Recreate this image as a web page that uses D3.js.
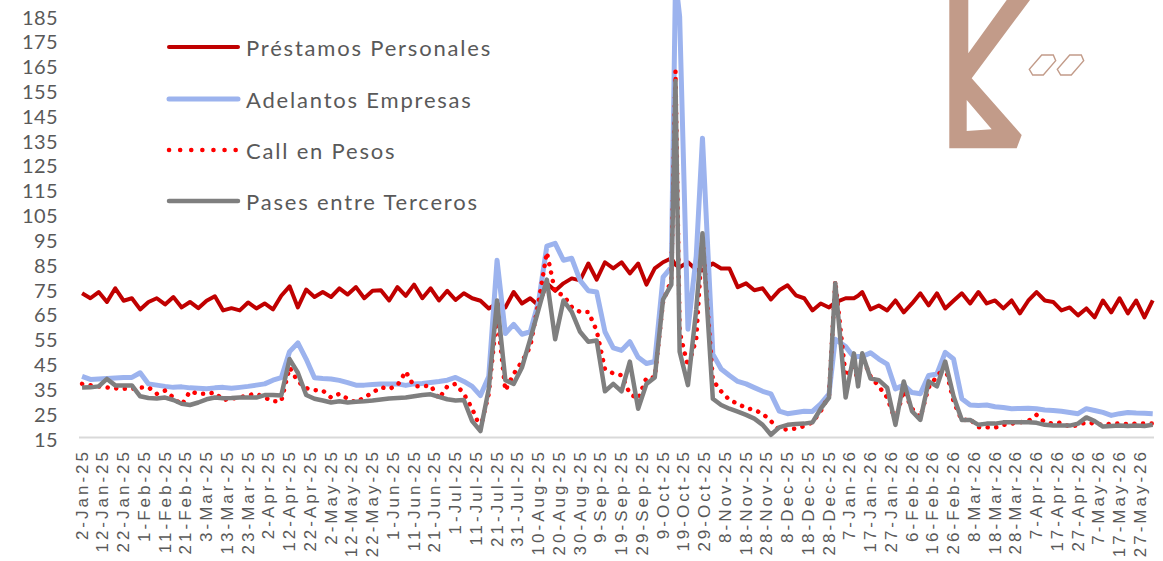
<!DOCTYPE html>
<html><head><meta charset="utf-8">
<script src="https://cdn.jsdelivr.net/npm/d3@7"></script>
<style>
html,body{margin:0;padding:0;background:#fff;}
svg{display:block;}
</style></head>
<body><svg id="chart" width="1163" height="561"></svg>
<script>
// ---------------- DATA ----------------
const dates = [
 "2025-01-02","2025-01-06","2025-01-10","2025-01-14","2025-01-18","2025-01-22","2025-01-26","2025-01-30","2025-02-03","2025-02-07",
 "2025-02-11","2025-02-15","2025-02-19","2025-02-23","2025-02-27","2025-03-03","2025-03-07","2025-03-11","2025-03-15","2025-03-19",
 "2025-03-23","2025-03-27","2025-03-31","2025-04-04","2025-04-08","2025-04-12","2025-04-16","2025-04-20","2025-04-24","2025-04-28",
 "2025-05-02","2025-05-06","2025-05-10","2025-05-14","2025-05-18","2025-05-22","2025-05-26","2025-05-30","2025-06-03","2025-06-07",
 "2025-06-11","2025-06-15","2025-06-19","2025-06-23","2025-06-27","2025-07-01","2025-07-05","2025-07-09","2025-07-13","2025-07-17",
 "2025-07-21","2025-07-25","2025-07-29","2025-08-02","2025-08-06","2025-08-10","2025-08-14","2025-08-18","2025-08-22","2025-08-26",
 "2025-08-30","2025-09-03","2025-09-07","2025-09-11","2025-09-15","2025-09-19","2025-09-23","2025-09-27","2025-10-01","2025-10-05",
 "2025-10-09","2025-10-13","2025-10-15","2025-10-17","2025-10-21","2025-10-25","2025-10-28","2025-11-02","2025-11-06","2025-11-10","2025-11-14",
 "2025-11-18","2025-11-22","2025-11-26","2025-11-30","2025-12-04","2025-12-08","2025-12-12","2025-12-16","2025-12-20","2025-12-24",
 "2025-12-28","2025-12-31","2026-01-05","2026-01-09","2026-01-11","2026-01-13","2026-01-17","2026-01-21","2026-01-25","2026-01-29","2026-02-02",
 "2026-02-06","2026-02-10","2026-02-14","2026-02-18","2026-02-22","2026-02-26","2026-03-02","2026-03-06","2026-03-10","2026-03-14",
 "2026-03-18","2026-03-22","2026-03-26","2026-03-30","2026-04-03","2026-04-07","2026-04-11","2026-04-15","2026-04-19","2026-04-23",
 "2026-04-27","2026-05-01","2026-05-05","2026-05-09","2026-05-13","2026-05-17","2026-05-21","2026-05-25","2026-05-29","2026-06-02"
];
const prestamos = [
 73.5,71.5,74,70,75.5,70.5,71.5,67,70,71.5,
 69,72,67.8,70,67.5,70.5,72.3,66.6,67.5,66.6,
 69.8,67.4,69.4,67,72.5,76.3,67.8,75,72,74,
 72,75.5,73,76,71.5,74.5,74.7,70.6,76,72.5,
 77,71.5,75.5,70.6,74.5,70.8,73.5,71.5,70.5,67.4,
 69.4,67.8,74,69.4,71.5,68.6,77.5,74.5,77.5,79.5,
 78.7,85.5,79,86,83.5,86,81.5,85.5,77,83.5,
 86,87.6,85,84,86,83,82.7,85.5,83.5,83.5,76,
 77.5,74.7,75.5,71,74.7,76.7,72.7,71.5,66.6,69.4,
 67.8,69.8,71.5,71.5,72.5,74,67,68.6,66.6,70.6,65.8,
 69.4,73.5,68.6,73.5,67.4,70.5,73.5,69.4,74,69.4,
 70.6,67.4,70.6,65.4,70.5,74,70.6,70,66.6,67.8,
 64.6,67.4,63.8,70.6,65.8,71.5,65.4,70.6,63.8,70.6
];
const adelantos = [
 40,38.8,39,39.2,39.4,39.6,39.6,41.5,37,36.5,
 36,35.6,35.8,35.4,35.2,35,35.4,35.6,35.2,35.6,
 36,36.5,37,38.5,39.5,50,53.5,47,39.5,39.2,
 39,38.4,37.5,36.5,36.5,36.8,37,37,37,36.4,
 37,37.2,37.6,38,38.5,39.6,38,36,32.3,40,
 86.8,57.3,61,57,58,70,92.5,93.6,86.8,87.6,
 78.7,74.5,74,58,51.5,50.5,54,47.7,45.2,46,
 80,84,200,185,59,88.5,136,49,43,40.4,38,
 37,35.5,34,33,26,25,25.5,26,25.9,29,
 33,55,52,47.7,48,48,49.5,47,45,35,36.5,
 33.5,33,40.4,41,49.7,47,31,28.5,28.3,28.5,
 27.8,27.5,27,27.1,27.2,27,26.5,26.3,26,25.5,
 25,27,26.3,25.5,24.3,25,25.5,25.3,25.2,25
];
const callPesos = [
 37,36.5,36,35.6,35.2,35,35,35.5,35.6,33,
 34.3,31.5,28.5,34,33,33,33.5,30.5,31,31.5,
 32.5,33,31.5,30,30,43.6,38,35.3,34.5,34.3,
 31.5,33,31,29.5,31.5,33.5,35.6,35,36.4,42,
 36,36,36.4,31,36,37,33,27,19.2,33,
 65.4,34.3,41,46,52,70,90,74,72.7,68,
 66,66,58.5,43,41.2,40.5,33,31,39.5,39.6,
 70,79,163,58,44,55,96,38.5,34,30.5,29,
 27.3,26.5,25,22,18.5,18.7,19,20,21.5,26,
 32.5,78.5,40,44,38,47.7,40,36,31.5,22.3,34.3,
 27,23.5,35.6,40,44,30,22.3,22.8,19.5,19.5,
 19.4,20.5,21,21.5,22,24.5,21.5,21,21.5,19.6,
 20.5,21.5,21,20.5,21,21,20.8,21,21,21
];
const pases = [
 35.5,35.6,36,39,36.4,36.4,36.4,32,31.3,31.1,
 31.5,30.5,29,28.5,29.5,30.8,31.5,31.2,31.3,31.5,
 31.5,31.5,32.5,32.5,32.3,47,41.5,32.5,31,30.3,
 29.5,30,29.5,29.8,30,30.3,30.7,31.1,31.3,31.5,
 32,32.5,32.8,31.8,30.8,30.3,30.5,22,18,35,
 70.6,38.5,37,43.6,55,67,79,55,70.6,66,
 58,54,54.5,34,37,34,46,27,37,39.6,
 71,77,159,50,36.5,67,97.7,31,28.5,27,25.8,
 24.5,23,20.5,16.5,19.5,20.5,20.8,21,21.5,27,
 31.5,77.5,31.5,49.3,36,49.3,39.2,38.5,35.5,20.5,38,
 26,22.5,38,36,46,32,22.5,22.5,20.5,21,
 21,21.5,21.5,21.5,21.5,21.3,20.5,20.2,20.2,20.2,
 21,23.5,22,19.8,20,20.2,20,20.2,20,20.5
];
const seriesNames = ["Préstamos Personales","Adelantos Empresas","Call en Pesos","Pases entre Terceros"];
const yTickValues = [15,25,35,45,55,65,75,85,95,105,115,125,135,145,155,165,175,185];
const xTickLabels = [
 "2-Jan-25","12-Jan-25","22-Jan-25","1-Feb-25","11-Feb-25","21-Feb-25","3-Mar-25","13-Mar-25","23-Mar-25",
 "2-Apr-25","12-Apr-25","22-Apr-25","2-May-25","12-May-25","22-May-25","1-Jun-25","11-Jun-25","21-Jun-25",
 "1-Jul-25","11-Jul-25","21-Jul-25","31-Jul-25","10-Aug-25","20-Aug-25","30-Aug-25","9-Sep-25","19-Sep-25",
 "29-Sep-25","9-Oct-25","19-Oct-25","29-Oct-25","8-Nov-25","18-Nov-25","28-Nov-25","8-Dec-25","18-Dec-25",
 "28-Dec-25","7-Jan-26","17-Jan-26","27-Jan-26","6-Feb-26","16-Feb-26","26-Feb-26","8-Mar-26","18-Mar-26",
 "28-Mar-26","7-Apr-26","17-Apr-26","27-Apr-26","7-May-26","17-May-26","27-May-26"
];

// ---------------- CHART ----------------
const svg = d3.select('#chart');
const parseDate = d3.timeParse('%Y-%m-%d');
const parseTick = d3.timeParse('%d-%b-%y');
const ds = dates.map(parseDate);

const x = d3.scaleTime()
  .domain([parseDate('2025-01-01'), parseDate('2026-06-03')])
  .range([80, 1154.8]);
const y = d3.scaleLinear().domain([15, 185]).range([438.5, 16.5]);

const txt = '#595959';

// logo (decorative)
const logoCol = '#C29B89';
svg.append('path')
  .attr('d', 'M949.3,0 L968.3,0 L968.3,53.3 L1006.7,0 L1030,0 L971.7,78.3 L1021.7,135 L1016.7,148.3 L949.3,148.3 Z M966.7,100 L966.7,131 L991.7,129.3 Z')
  .attr('fill', logoCol).attr('fill-rule', 'evenodd');
[0, 28].forEach(off => {
  svg.append('path')
    .attr('d', 'M1041.7,55 L1053.3,55 L1055.7,60.7 L1043.3,75 L1032.7,75 L1029.3,69.3 Z')
    .attr('transform', `translate(${off},0)`)
    .attr('fill', 'none').attr('stroke', logoCol).attr('stroke-width', 1.4);
});

// y tick labels
svg.append('g').selectAll('text').data(yTickValues).join('text')
  .attr('x', 58).attr('y', d => y(d))
  .attr('text-anchor', 'end').attr('dominant-baseline', 'central')
  .attr('font-family', 'Lato, "Open Sans", sans-serif').attr('font-size', 20)
  .attr('letter-spacing', 0.4)
  .attr('fill', txt).text(d => d);

// x axis line
svg.append('line').attr('x1', 79).attr('x2', 1154).attr('y1', 437.5).attr('y2', 437.5)
  .attr('stroke', '#D9D9D9').attr('stroke-width', 2);

// x tick labels
svg.append('g').selectAll('text').data(xTickLabels).join('text')
  .attr('transform', d => `translate(${x(parseTick(d))},449) rotate(-90)`)
  .attr('text-anchor', 'end').attr('dominant-baseline', 'central')
  .attr('font-family', '"Liberation Sans", Arial, sans-serif').attr('font-size', 17)
  .attr('letter-spacing', 3)
  .attr('fill', txt).text(d => d);

const styles = [
  {vals: prestamos, color: '#C00000', w: 4, dash: null},
  {vals: adelantos, color: '#9CB3EE', w: 5, dash: null},
  {vals: callPesos, color: '#FF0000', w: 4.5, dash: '0.1 8.5'},
  {vals: pases, color: '#7F7F7F', w: 4.5, dash: null}
];

const line = d3.line().x(d => x(d[0])).y(d => y(d[1]));
styles.forEach(s => {
  const pts = ds.map((d, i) => [d, s.vals[i]]);
  svg.append('path').datum(pts).attr('d', line)
    .attr('fill', 'none').attr('stroke', s.color).attr('stroke-width', s.w)
    .attr('stroke-linejoin', 'round')
    .attr('stroke-linecap', s.dash ? 'round' : 'butt')
    .attr('stroke-dasharray', s.dash);
});

// legend
const legY = [47, 99, 150, 201];
styles.forEach((s, i) => {
  svg.append('line').attr('x1', 169).attr('x2', 238).attr('y1', legY[i]).attr('y2', legY[i])
    .attr('stroke', s.color).attr('stroke-width', s.w)
    .attr('stroke-linecap', 'round')
    .attr('stroke-dasharray', s.dash ? '0.1 11' : null);
  svg.append('text').attr('x', 246).attr('y', legY[i])
    .attr('dominant-baseline', 'central')
    .attr('font-family', 'Lato, "Open Sans", sans-serif').attr('font-size', 22)
    .attr('letter-spacing', 1.8)
    .attr('fill', txt).text(seriesNames[i]);
});
</script>
</body></html>
